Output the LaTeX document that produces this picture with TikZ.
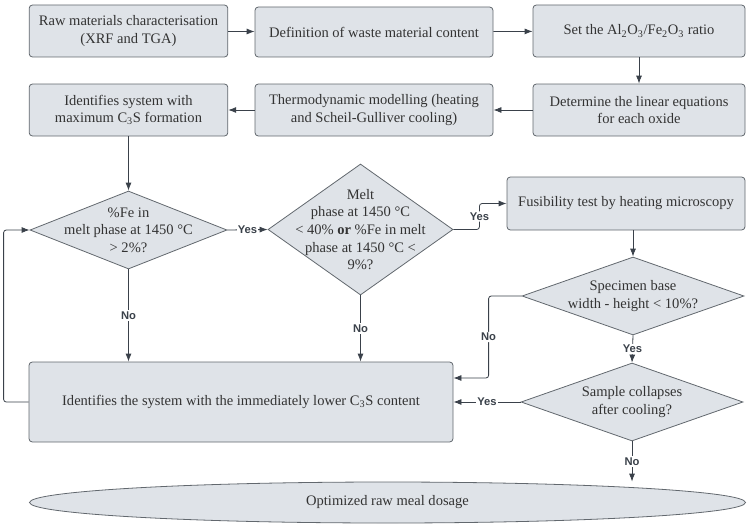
\documentclass[tikz,border=0pt]{standalone}
\usepackage{fontspec}
\setmainfont{Liberation Serif}
\newfontfamily\lblfont{Liberation Sans}
\usetikzlibrary{shapes.geometric, arrows.meta}
\definecolor{boxfill}{HTML}{DFE3E8}
\definecolor{boxline}{HTML}{62686E}
\definecolor{arrline}{HTML}{3A414A}

\begin{document}
\begin{tikzpicture}[x=0.75pt,y=0.75pt,yscale=-1,xscale=1,
        process/.style={draw=boxline, fill=boxfill, line width=0.6pt, rounded corners=2.5pt, align=center, inner sep=2pt, text=black!80, font=\fontsize{10.9}{12.9}\selectfont},
        decision/.style={shape=diamond, draw=boxline, fill=boxfill, line width=0.6pt, inner sep=0pt},
        dtext/.style={align=center, text=black!80, font=\fontsize{10.9}{13.2}\selectfont},
        terminal/.style={shape=ellipse, draw=boxline, fill=boxfill, line width=0.6pt, inner sep=0pt, text=black!80, font=\fontsize{10.9}{12.9}\selectfont},
        conn/.style={draw=arrline, line width=0.6pt, -{Latex[length=6pt,width=4.5pt]}},
        lbl/.style={fill=white, inner sep=1pt, text=arrline, font=\lblfont\bfseries\fontsize{8.4}{10}\selectfont}]
        \useasboundingbox (0,0) rectangle (748,528); %set diagram to 748 x 528

        % Process boxes, first row
        \node[process, minimum width=149pt, minimum height=39pt] (raw) at (128.5,31) {Raw materials characterisation\\(XRF and TGA)};
        \node[process, minimum width=178.5pt, minimum height=37.5pt] (waste) at (374,32) {Definition of waste material content};
        \node[process, minimum width=159pt, minimum height=39pt] (ratio) at (639,31) {Set the Al\textsubscript{2}O\textsubscript{3}/Fe\textsubscript{2}O\textsubscript{3} ratio};
        % Process boxes, second row
        \node[process, minimum width=149pt, minimum height=39pt] (maxcs) at (128.5,110) {Identifies system with\\maximum C\textsubscript{3}S formation};
        \node[process, minimum width=178.5pt, minimum height=39pt] (thermo) at (374,110) {Thermodynamic modelling (heating\\and Scheil-Gulliver cooling)};
        \node[process, minimum width=159pt, minimum height=39pt] (lineq) at (639,110) {Determine the linear equations\\for each oxide};

        % Decisions
        \node[decision, minimum width=147.75pt, minimum height=58.5pt,
              label={[dtext]center:\%Fe in\\melt phase at 1450 °C\\> 2\%?}] (fe) at (128.5,230) {};
        \node[decision, minimum width=138.75pt, minimum height=98.25pt,
              label={[dtext]center:Melt\\phase at 1450 °C\\< 40\% \textbf{or} \%Fe in melt\\phase at 1450 °C <\\9\%?}] (melt) at (360.5,229.5) {};
        \node[process, minimum width=178.5pt, minimum height=39.75pt] (fus) at (626,203.5) {Fusibility test by heating microscopy};
        \node[decision, minimum width=166.5pt, minimum height=58.5pt,
              label={[dtext]center:Specimen base\\width - height < 10\%?}] (spec) at (633,296) {};
        \node[decision, minimum width=166.5pt, minimum height=58.5pt,
              label={[dtext]center:Sample collapses\\after cooling?}] (collapse) at (632,402) {};

        % Lower box and end
        \node[process, minimum width=318pt, minimum height=60pt] (lower) at (241,402) {Identifies the system with the immediately lower C\textsubscript{3}S content};
        \node[terminal, minimum width=537pt, minimum height=30.75pt] (dosage) at (387.5,502.5) {Optimized raw meal dosage};

        % Connectors
        \draw[conn] (raw) -- (waste);
        \draw[conn] (waste) -- (ratio);
        \draw[conn] (ratio) -- (lineq);
        \draw[conn] (lineq) -- (thermo);
        \draw[conn] (thermo) -- (maxcs);
        \draw[conn] (maxcs.south) -- (fe.north);
        \draw[conn] (fe.east) -- (melt.west) node[lbl, midway] {Yes};
        \draw[conn, rounded corners=2pt] (melt.east) -- ++(26,0) |- (fus.west) node[lbl, pos=0.25] {Yes};
        \draw[conn] (fus.south -| spec.north) -- (spec.north);
        \draw[conn] (fe.south) -- (fe.south |- lower.north) node[lbl, midway] {No};
        \draw[conn] (melt.south) -- (melt.south |- lower.north) node[lbl, midway] {No};
        \draw[conn, rounded corners=2pt] (spec.west) -- ++(-33,0) |- ([yshift=-18pt]lower.east) node[lbl, pos=0.25] {No};
        \draw[conn] (spec.south) -- (collapse.north) node[lbl, midway] {Yes};
        \draw[conn] (collapse.west) -- (lower.east) node[lbl, midway] {Yes};
        \draw[conn] (collapse.south) -- (collapse.south |- dosage.north) node[lbl, midway] {No};
        \draw[conn, rounded corners=2pt] (lower.west) -- ++(-25,0) |- (fe.west);

\end{tikzpicture}
\end{document}
